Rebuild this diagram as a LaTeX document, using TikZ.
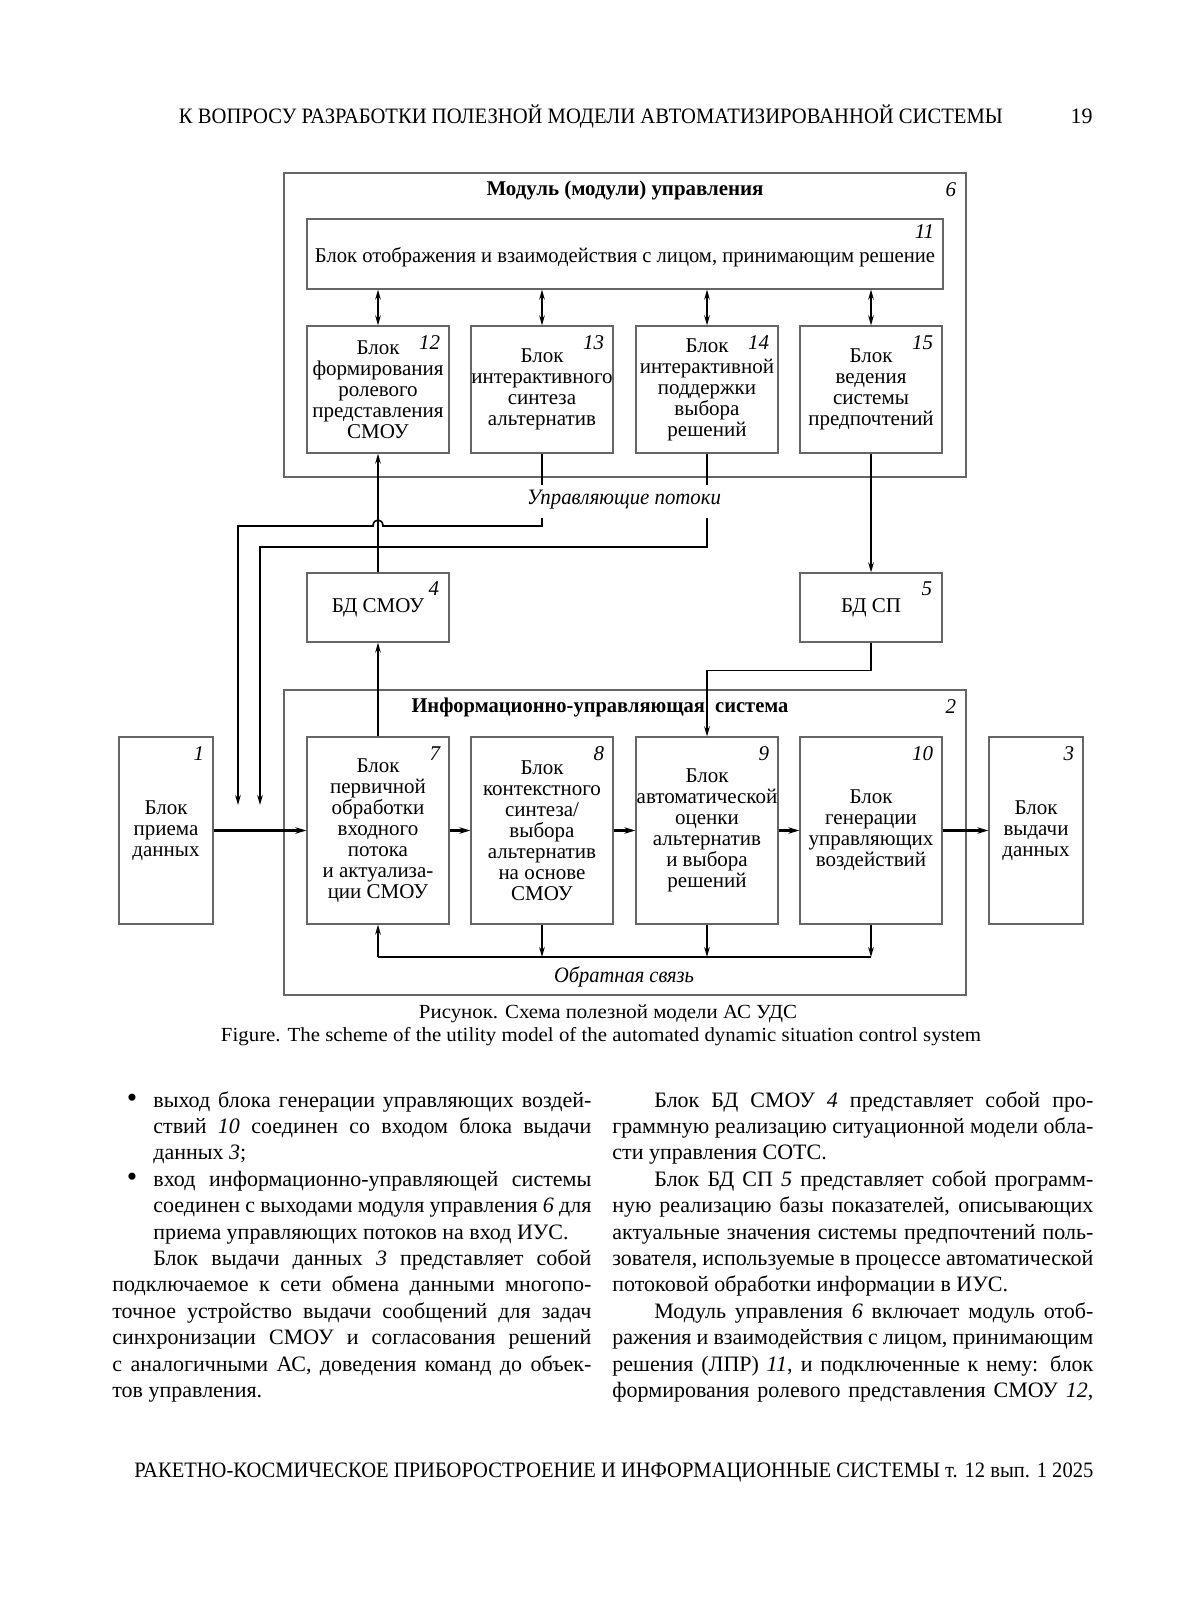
\documentclass[tikz,border=0pt]{standalone}
\usepackage{fontspec}
\setmainfont{Liberation Serif}
\usepackage{graphicx}
\usetikzlibrary{arrows.meta,calc}
\newcommand\fitto[2]{\resizebox{#1}{\height}{#2}}
\newcommand\jl[2]{\makebox[#1][s]{#2}}
\tikzset{
  box/.style={draw=black!60, line width=0.6pt, inner sep=0pt, align=center,
    font=\fontsize{10.5pt}{10.5pt}\selectfont},
  num/.style={font=\fontsize{10.5pt}{10.5pt}\selectfont\itshape, inner sep=0pt, anchor=north east},
  conn/.style={line width=0.8pt, draw=black},
  arr/.style={conn, -{Stealth[length=5pt,width=2.8pt]}},
  darr/.style={conn, {Stealth[length=5pt,width=2.8pt]}-{Stealth[length=5pt,width=2.8pt]}},
  harr/.style={line width=1.2pt, -{Stealth[length=5.5pt,width=3.2pt]}},
  body/.style={font=\fontsize{11pt}{13.2pt}\selectfont, inner sep=0pt, anchor=base west},
  bul/.style={font=\fontsize{11pt}{13.2pt}\selectfont, inner sep=0pt, anchor=base},
}
\begin{document}
\begin{tikzpicture}[x=0.5pt,y=-0.5pt]
\fill[white] (0,0) rectangle (1200,1621);
\useasboundingbox (0,0) rectangle (1200,1621);

% header
\node[anchor=base, inner sep=0pt, font=\fontsize{11pt}{13pt}\selectfont] (hdr) at (591,124)
  {\fitto{412pt}{К ВОПРОСУ РАЗРАБОТКИ ПОЛЕЗНОЙ МОДЕЛИ АВТОМАТИЗИРОВАННОЙ СИСТЕМЫ}};
\node[anchor=base east, inner sep=0pt, font=\fontsize{11pt}{13pt}\selectfont] (pg) at (1093,124) {19};

% module 6
\node[box, minimum width=341pt, minimum height=152pt] (m6) at (625,325) {};
\node[font=\fontsize{10.5pt}{12pt}\selectfont\bfseries, inner sep=0pt] (m6t) at (625,190)
  {\fitto{138.5pt}{Модуль (модули) управления}};
\node[num] (n6) at ([xshift=-5pt,yshift=-5pt]m6.north east) {6};

\node[box, minimum width=318pt, minimum height=35pt] (b11) at (625,254) {};
\node[inner sep=0pt, font=\fontsize{10.5pt}{10.5pt}\selectfont] (b11t) at (625,257)
  {\fitto{310pt}{Блок отображения и взаимодействия с лицом, принимающим решение}};
\node[num] (n11) at ([xshift=-4.5pt,yshift=-3pt]b11.north east) {11};

\node[box, minimum width=71pt, minimum height=63.5pt] (b12) at (378,389.5)
  {Блок\\формирования\\ролевого\\представления\\СМОУ};
\node[box, minimum width=71pt, minimum height=63.5pt] (b13) at (542,389.5)
  {Блок\\интерактивного\\синтеза\\альтернатив};
\node[box, minimum width=71pt, minimum height=63.5pt] (b14) at (707,389.5)
  {Блок\\интерактивной\\поддержки\\выбора\\решений};
\node[box, minimum width=71pt, minimum height=63.5pt] (b15) at (871,389.5)
  {Блок\\ведения\\системы\\предпочтений};
\node[num] (n12) at ([xshift=-4.5pt,yshift=-5pt]b12.north east) {12};
\node[num] (n13) at ([xshift=-4.5pt,yshift=-5pt]b13.north east) {13};
\node[num] (n14) at ([xshift=-4.5pt,yshift=-5pt]b14.north east) {14};
\node[num] (n15) at ([xshift=-4.5pt,yshift=-5pt]b15.north east) {15};

\foreach \b in {b12,b13,b14,b15}{
  \draw[darr] (b11.south -| \b.north) -- (\b.north);
}

% DB boxes
\node[box, minimum width=71pt, minimum height=34.5pt] (b4) at (378,607.5) {БД СМОУ};
\node[box, minimum width=71pt, minimum height=34.5pt] (b5) at (871,607.5) {БД СП};
\node[num] (n4) at ([xshift=-5pt,yshift=-4.5pt]b4.north east) {4};
\node[num] (n5) at ([xshift=-5pt,yshift=-4.5pt]b5.north east) {5};

% IUS 2
\node[box, minimum width=341pt, minimum height=152.5pt] (m2) at (625,842.5) {};
\node[font=\fontsize{10.5pt}{12pt}\selectfont\bfseries, inner sep=0pt] (m2t) at (600,707)
  {\fitto{188.5pt}{Информационно-управляющая\ \ система}};
\node[num] (n2) at ([xshift=-5pt,yshift=-5pt]m2.north east) {2};

\node[box, minimum width=47pt, minimum height=93.5pt] (b1) at (166,830.5) {Блок\\приема\\данных};
\node[box, minimum width=47pt, minimum height=93.5pt] (b3) at (1036,830.5) {Блок\\выдачи\\данных};
\node[box, minimum width=71pt, minimum height=93.5pt] (b7) at (378,830.5)
  {Блок\\первичной\\обработки\\входного\\потока\\и актуализа-\\ции СМОУ};
\node[box, minimum width=71pt, minimum height=93.5pt] (b8) at (542,830.5)
  {Блок\\контекстного\\синтеза/\\выбора\\альтернатив\\на основе\\СМОУ};
\node[box, minimum width=71pt, minimum height=93.5pt] (b9) at (707,830.5)
  {Блок\\автоматической\\оценки\\альтернатив\\и выбора\\решений};
\node[box, minimum width=71pt, minimum height=93.5pt] (b10) at (871,830.5)
  {Блок\\генерации\\управляющих\\воздействий};
\node[num] (n1) at ([xshift=-4.5pt,yshift=-5pt]b1.north east) {1};
\node[num] (n3) at ([xshift=-4.5pt,yshift=-5pt]b3.north east) {3};
\node[num] (n7) at ([xshift=-4.5pt,yshift=-5pt]b7.north east) {7};
\node[num] (n8) at ([xshift=-4.5pt,yshift=-5pt]b8.north east) {8};
\node[num] (n9) at ([xshift=-4.5pt,yshift=-5pt]b9.north east) {9};
\node[num] (n10) at ([xshift=-4.5pt,yshift=-5pt]b10.north east) {10};

% vertical links
\draw[arr] (b15.south) -- (b5.north);
\draw[arr] (b4.north) -- (b12.south);
\draw[arr] (b7.north) -- (b4.south);
\draw[arr] (b5.south) -- ++(0,28) -| (b9.north);

% control flows
\node[font=\fontsize{11pt}{12pt}\selectfont\itshape, inner sep=0pt] (lcf) at (624,500)
  {\fitto{97pt}{Управляющие потоки}};
\coordinate (cf1) at (238,805);
\coordinate (cf2) at (260,805);
\coordinate (u1) at (542,518);
\coordinate (u2) at (707,518);
\draw[conn] (b13.south) -- ++(0,31);
\draw[conn] (b14.south) -- ++(0,31);
\draw[arr] (u1) -- (542,526) -- (383,526) .. controls (383,518) and (373,518) .. (373,526) -| (cf1);
\draw[arr] (u2) -- (707,547) -| (cf2);

% main flow
\draw[harr] (b1.east) -- (b7.west);
\draw[harr] (b7.east) -- (b8.west);
\draw[harr] (b8.east) -- (b9.west);
\draw[harr] (b9.east) -- (b10.west);
\draw[harr] (b10.east) -- (b3.west);

% feedback
\coordinate (fb) at (378,957);
\draw[conn] (fb) -- (b10.south |- fb);
\draw[arr] (fb) -- (b7.south);
\draw[arr] (b8.south) -- (b8.south |- fb);
\draw[arr] (b9.south) -- (b9.south |- fb);
\draw[arr] (b10.south) -- (b10.south |- fb);
\node[font=\fontsize{11pt}{12pt}\selectfont\itshape, inner sep=0pt] (lfb) at (624,977)
  {\fitto{70pt}{Обратная связь}};

% caption
\node[font=\fontsize{10pt}{12pt}\selectfont, inner sep=0pt] (cap1) at (608,1014)
  {\fitto{189pt}{Рисунок. Схема полезной модели АС УДС}};
\node[font=\fontsize{10pt}{12pt}\selectfont, inner sep=0pt] (cap2) at (601,1037)
  {\fitto{380pt}{Figure. The scheme of the utility model of the automated dynamic situation control system}};

% left column
\node[bul] (bl1) at (132,1107) {\scalebox{1.35}{\textbullet}};
\node[body] (l0) at (153,1107) {\jl{219pt}{выход блока генерации управляющих воздей-}};
\node[body] (l1) at (153,1133.4) {\jl{219pt}{ствий \textit{10} соединен со входом блока выдачи}};
\node[body] (l2) at (153,1159.8) {данных \textit{3};};
\node[bul] (bl2) at (132,1186.2) {\scalebox{1.35}{\textbullet}};
\node[body] (l3) at (153,1186.2) {\jl{219pt}{вход информационно-управляющей системы}};
\node[body] (l4) at (153,1212.6) {\jl{219pt}{соединен с выходами модуля управления \textit{6} для}};
\node[body] (l5) at (153,1239) {приема управляющих потоков на вход ИУС.};
\node[body] (l6) at (153,1265.4) {\jl{219pt}{Блок выдачи данных \textit{3} представляет собой}};
\node[body] (l7) at (112,1291.8) {\jl{239.5pt}{подключаемое к сети обмена данными многопо-}};
\node[body] (l8) at (112,1318.2) {\jl{239.5pt}{точное устройство выдачи сообщений для задач}};
\node[body] (l9) at (112,1344.6) {\jl{239.5pt}{синхронизации СМОУ и согласования решений}};
\node[body] (l10) at (112,1371) {\jl{239.5pt}{с аналогичными АС, доведения команд до объек-}};
\node[body] (l11) at (112,1397.4) {тов управления.};

% right column
\node[body] (r0) at (654,1107) {\jl{219.5pt}{Блок БД СМОУ \textit{4} представляет собой про-}};
\node[body] (r1) at (612,1133.4) {\jl{240.5pt}{граммную реализацию ситуационной модели обла-}};
\node[body] (r2) at (612,1159.8) {сти управления СОТС.};
\node[body] (r3) at (654,1186.2) {\jl{219.5pt}{Блок БД СП \textit{5} представляет собой программ-}};
\node[body] (r4) at (612,1212.6) {\jl{240.5pt}{ную реализацию базы показателей, описывающих}};
\node[body] (r5) at (612,1239) {\jl{240.5pt}{актуальные значения системы предпочтений поль-}};
\node[body] (r6) at (612,1265.4) {\jl{240.5pt}{зователя, используемые в процессе автоматической}};
\node[body] (r7) at (612,1291.8) {потоковой обработки информации в ИУС.};
\node[body] (r8) at (654,1318.2) {\jl{219.5pt}{Модуль управления \textit{6} включает модуль отоб-}};
\node[body] (r9) at (612,1344.6) {\jl{240.5pt}{ражения и взаимодействия с лицом, принимающим}};
\node[body] (r10) at (612,1371) {\jl{240.5pt}{решения (ЛПР) \textit{11}, и подключенные к нему: блок}};
\node[body] (r11) at (612,1397.4) {\jl{240.5pt}{формирования ролевого представления СМОУ \textit{12},}};

% footer
\node[anchor=base west, inner sep=0pt, font=\fontsize{11pt}{13pt}\selectfont] (ftr) at (134,1477)
  {\fitto{479.5pt}{РАКЕТНО-КОСМИЧЕСКОЕ ПРИБОРОСТРОЕНИЕ И ИНФОРМАЦИОННЫЕ СИСТЕМЫ т. 12 вып. 1 2025}};
\end{tikzpicture}
\end{document}
